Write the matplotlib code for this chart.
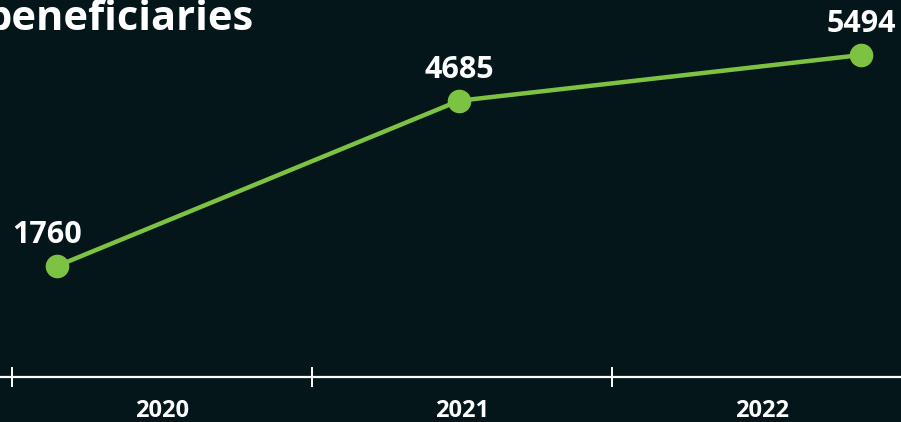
import matplotlib
matplotlib.use("Agg")
import matplotlib.pyplot as plt

years = ["2020", "2021", "2022"]
beneficiaries = [1760, 4685, 5494]
title = "beneficiaries"

bg = "#04161a"
green = "#7dc242"
plt.rcParams["font.family"] = ["Open Sans", "DejaVu Sans"]

fig = plt.figure(figsize=(9.01, 4.22), dpi=100, facecolor=bg)

# axis with category bands
ax = fig.add_axes([0, 1 - 377 / 422, 1, 377 / 422])
ax.set_facecolor("none")
ax.set_xlim(-12 / 300, 889 / 300)
ax.set_ylim(0, 1)
for s in ["top", "left", "right"]:
    ax.spines[s].set_visible(False)
ax.spines["bottom"].set_color("white")
ax.spines["bottom"].set_linewidth(1.6)
ax.set_yticks([])
ax.set_xticks(range(len(years)))
ax.set_xticklabels([])
ax.tick_params(axis="x", which="major", direction="inout", length=14, width=1.4, color="white")
ax.set_xticks([i + 0.5 for i in range(len(years))], minor=True)
ax.set_xticklabels(years, minor=True, fontsize=17, fontweight="bold", color="white")
ax.tick_params(axis="x", which="minor", length=0, pad=15.5)

# line series
ax2 = fig.add_axes([0, 0, 1, 1])
ax2.set_facecolor("none")
ax2.axis("off")
ax2.set_xlim(-57 / 402, 844 / 402)
ax2.set_ylim(-1000, 6468)
x = list(range(len(beneficiaries)))
ax2.plot(x, beneficiaries, color=green, lw=3.2, marker="o", ms=16, zorder=3)
for i, v in enumerate(beneficiaries):
    dx = -7 if i == 0 else 0
    ax2.annotate(str(v), (i, v), xytext=(dx, 11.5), textcoords="offset points",
                 ha="center", va="bottom", fontsize=22, fontweight="bold", color="white")

fig.text(-14 / 901, 1 - 30 / 422, title, fontsize=30, fontweight="bold", color="white",
         ha="left", va="baseline")

fig.savefig("out.png", dpi=100, facecolor=bg)
